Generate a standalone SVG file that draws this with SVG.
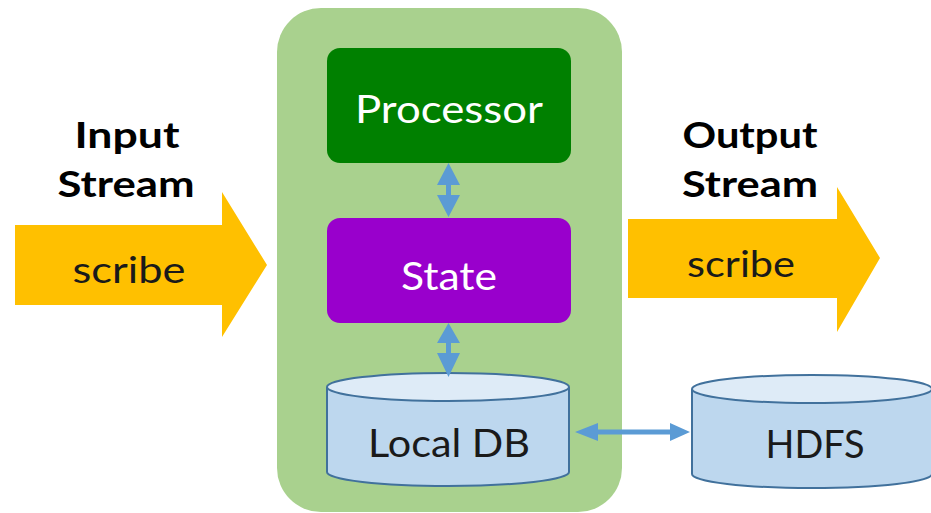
<svg xmlns="http://www.w3.org/2000/svg" width="931" height="513" viewBox="0 0 931 513">
<style>
text{font-family:Lato,"Open Sans","Liberation Sans",sans-serif;text-anchor:middle}
.lbl{font-weight:bold;font-size:36px;fill:#000}
.wt{font-size:39px;fill:#fff}
.bk{font-size:39px;fill:#1a1a1a}
.sc{font-size:36px;fill:#1a1a1a}
.yarrow{fill:#FFC000}
.cylb{fill:#BDD7EE;stroke:#41719C;stroke-width:2}
.cylt{fill:#DEEBF7;stroke:#41719C;stroke-width:2}
.conn{fill:#5B9BD5}
</style>
<rect width="931" height="513" fill="#fff"/>
<g id="container"><rect x="277" y="8" width="345" height="504" rx="44" fill="#A9D18E"/></g>
<g id="input-label">
<text class="lbl" x="127" y="148" textLength="105" lengthAdjust="spacingAndGlyphs">Input</text>
<text class="lbl" x="126" y="197" textLength="137" lengthAdjust="spacingAndGlyphs">Stream</text>
</g>
<g id="output-label">
<text class="lbl" x="750" y="148" textLength="135" lengthAdjust="spacingAndGlyphs">Output</text>
<text class="lbl" x="750" y="197" textLength="136" lengthAdjust="spacingAndGlyphs">Stream</text>
</g>
<g id="input-stream">
<polygon class="yarrow" points="15,225 222,225 222,192 267,265 222,337 222,305 15,305"/>
<text class="sc" x="129" y="283" textLength="113" lengthAdjust="spacingAndGlyphs">scribe</text>
</g>
<g id="output-stream">
<polygon class="yarrow" points="628,219 837,219 837,187 880,258 837,332 837,298 628,298"/>
<text class="sc" x="741" y="277" textLength="108" lengthAdjust="spacingAndGlyphs">scribe</text>
</g>
<g id="processor">
<rect x="327" y="48" width="244" height="115" rx="13" fill="#008000"/>
<text class="wt" x="449" y="123" textLength="188" lengthAdjust="spacingAndGlyphs">Processor</text>
</g>
<g id="state">
<rect x="327" y="218" width="244" height="105" rx="13" fill="#9900CC"/>
<text class="wt" x="449" y="290" textLength="96" lengthAdjust="spacingAndGlyphs">State</text>
</g>
<g id="local-db">
<path class="cylb" d="M327,387 L327,472 A121,14 0 0 0 569,472 L569,387"/>
<ellipse class="cylt" cx="448" cy="387" rx="121" ry="14"/>
<text class="bk" x="449" y="457" textLength="162" lengthAdjust="spacingAndGlyphs">Local DB</text>
</g>
<g id="hdfs">
<path class="cylb" d="M692,389 L692,474 A120,14 0 0 0 932,474 L932,389"/>
<ellipse class="cylt" cx="812" cy="389" rx="120" ry="14"/>
<text class="bk" x="815" y="458" textLength="99" lengthAdjust="spacingAndGlyphs">HDFS</text>
</g>
<g id="connectors">
<polygon class="conn" points="448.5,163 460,185 451,185 451,195 460,195 448.5,217 437,195 446,195 446,185 437,185"/>
<polygon class="conn" points="448.5,323 460,343 451,343 451,353 460,353 448.5,377 437,353 446,353 446,343 437,343"/>
<polygon class="conn" points="575,432 598,423 598,429.5 670,429.5 670,423 690,432 670,441 670,434.5 598,434.5 598,441"/>
</g>
</svg>
